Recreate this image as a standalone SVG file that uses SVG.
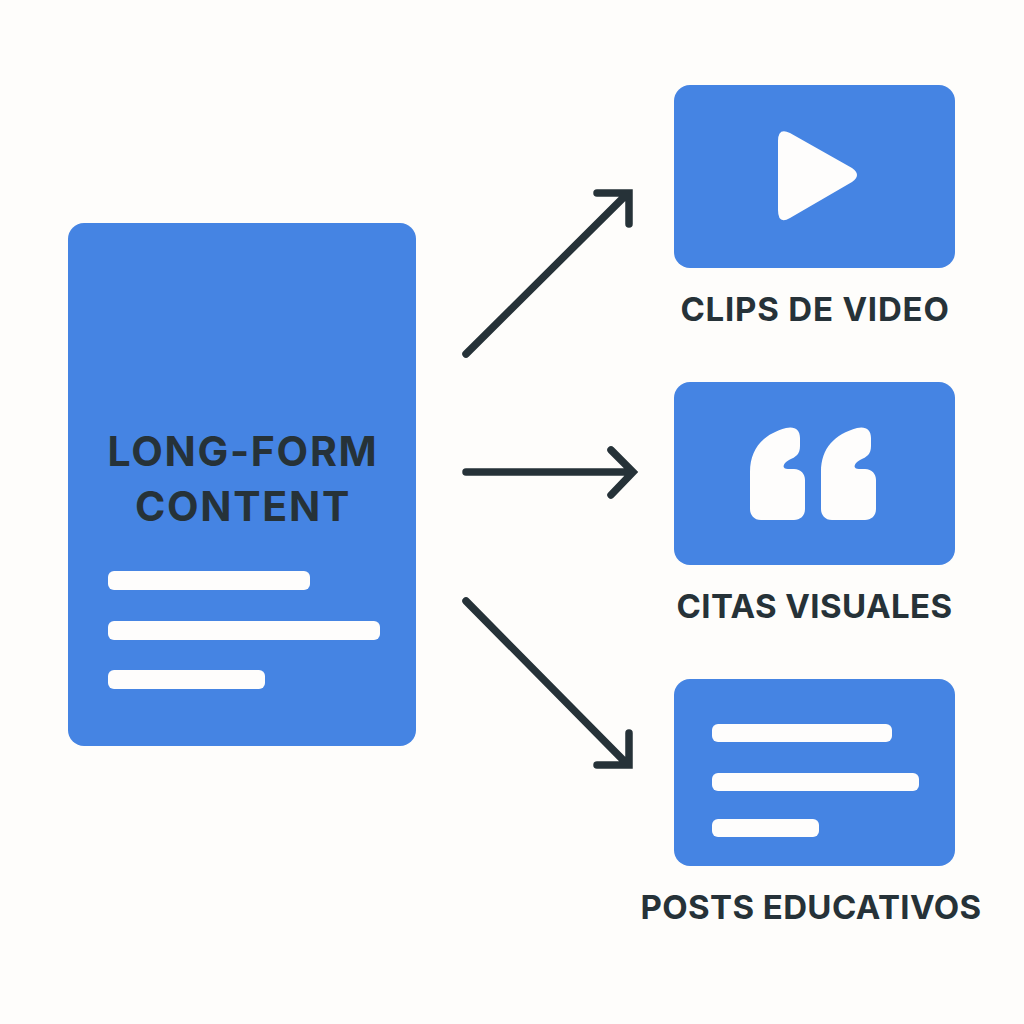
<svg xmlns="http://www.w3.org/2000/svg" width="1024" height="1024" viewBox="0 0 1024 1024">
<style>
.box{fill:#4584e3}
.w{fill:#fefdfc}
.t{font-family:Inter,"Liberation Sans",sans-serif;font-weight:700;fill:#263238;text-anchor:middle}
.c{font-size:33px;letter-spacing:.4px}
.h{font-size:41px;letter-spacing:1.7px}
.a{fill:none;stroke:#263238;stroke-width:7.5;stroke-linecap:round;stroke-linejoin:miter}
</style>
<rect width="1024" height="1024" fill="#fefdfb"/>
<g id="connectors">
<path class="a" d="M466 354L626 195M597 193H629V224"/>
<path class="a" d="M466 472H630M611 450L633 472L611 495"/>
<path class="a" d="M466 601L626 763M629 733V765H597"/>
</g>
<g id="long-form">
<rect class="box" x="68" y="223" width="348" height="523" rx="16"/>
<text class="t h" x="243" y="466">LONG-FORM</text>
<text class="t h" x="243" y="521">CONTENT</text>
<rect class="w" x="108" y="571" width="202" height="19" rx="6"/>
<rect class="w" x="108" y="621" width="272" height="19" rx="6"/>
<rect class="w" x="108" y="670" width="157" height="19" rx="6"/>
</g>
<g id="clips">
<rect class="box" x="674" y="85" width="281" height="183" rx="16"/>
<path class="w" d="M778 141Q778 127 790 133L852 168Q862 175 852 182L790 218Q778 225 778 210Z"/>
<text class="t c" x="815" y="321" style="letter-spacing:.8px">CLIPS DE VIDEO</text>
</g>
<g id="citas">
<rect class="box" x="674" y="382" width="281" height="183" rx="16"/>
<path class="w" d="M750 472C750 448 764 434 786 428C795 426 800 430 800 438V446C800 454 796 457 789 460C783 463 781 469 788 469H794C801 469 805 474 805 480V509C805 516 800 520 794 520L761 520C754 520 750 515 750 509Z"/>
<path class="w" d="M821 472C821 448 835 434 857 428C866 426 871 430 871 438V446C871 454 867 457 860 460C854 463 852 469 859 469H865C872 469 876 474 876 480V509C876 516 871 520 865 520L832 520C825 520 821 515 821 509Z"/>
<text class="t c" x="814.500" y="618">CITAS VISUALES</text>
</g>
<g id="posts">
<rect class="box" x="674" y="679" width="281" height="187" rx="16"/>
<rect class="w" x="712" y="724" width="180" height="18" rx="6"/>
<rect class="w" x="712" y="773" width="207" height="18" rx="6"/>
<rect class="w" x="712" y="819" width="107" height="18" rx="6"/>
<text class="t c" x="811" y="919">POSTS EDUCATIVOS</text>
</g>
</svg>
